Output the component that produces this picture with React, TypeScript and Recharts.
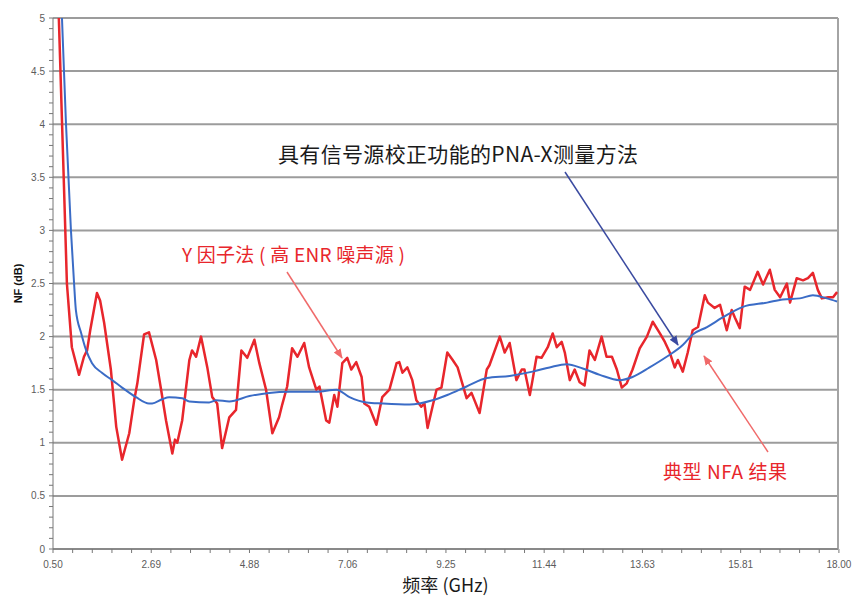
import { Line, LineChart, ReferenceLine, XAxis, YAxis } from "recharts";
import * as React from "react";

// Y-factor method (typical NFA result)
const redFreq = [
  0.63, 0.72, 0.81, 0.92, 1.08, 1.19, 1.26, 1.33, 1.48, 1.55, 1.64, 1.79, 1.91, 2.04, 2.2, 2.31, 2.38, 2.53,
  2.64, 2.8, 2.91, 3.02, 3.16, 3.22, 3.27, 3.38, 3.54, 3.6, 3.69, 3.8, 3.94, 4.05, 4.16, 4.27, 4.43, 4.58,
  4.7, 4.83, 4.99, 5.1, 5.25, 5.39, 5.54, 5.61, 5.72, 5.83, 5.95, 6.1, 6.21, 6.37, 6.44, 6.59, 6.66, 6.77,
  6.84, 6.95, 7.06, 7.15, 7.26, 7.38, 7.44, 7.55, 7.71, 7.84, 8.0, 8.16, 8.22, 8.29, 8.4, 8.51, 8.6, 8.71,
  8.78, 8.85, 8.96, 9.05, 9.16, 9.29, 9.41, 9.52, 9.72, 9.83, 10.01, 10.17, 10.23, 10.46, 10.57, 10.68,
  10.83, 10.95, 11.01, 11.13, 11.19, 11.28, 11.39, 11.53, 11.64, 11.73, 11.84, 11.91, 12.02, 12.13, 12.24,
  12.35, 12.46, 12.58, 12.73, 12.84, 12.96, 13.07, 13.18, 13.29, 13.42, 13.58, 13.74, 13.87, 14.03, 14.14,
  14.25, 14.36, 14.43, 14.54, 14.65, 14.76, 14.88, 15.03, 15.1, 15.25, 15.37, 15.52, 15.63, 15.7, 15.81,
  15.92, 16.04, 16.21, 16.33, 16.48, 16.59, 16.71, 16.86, 16.93, 17.08, 17.22, 17.33, 17.44, 17.55, 17.64,
  17.78, 17.89, 17.98,
];
const redNF = [
  5.0, 3.76, 2.5, 1.9, 1.64, 1.81, 1.87, 2.06, 2.41, 2.34, 2.13, 1.69, 1.15, 0.84, 1.09, 1.4, 1.56, 2.02,
  2.04, 1.78, 1.5, 1.21, 0.9, 1.03, 1.0, 1.21, 1.78, 1.87, 1.81, 2.0, 1.71, 1.43, 1.37, 0.95, 1.24, 1.31,
  1.87, 1.8, 1.97, 1.75, 1.5, 1.09, 1.24, 1.36, 1.53, 1.89, 1.81, 1.94, 1.71, 1.5, 1.53, 1.21, 1.19, 1.45,
  1.34, 1.75, 1.8, 1.69, 1.76, 1.62, 1.37, 1.34, 1.17, 1.43, 1.5, 1.75, 1.76, 1.66, 1.71, 1.59, 1.4, 1.34,
  1.37, 1.14, 1.34, 1.5, 1.52, 1.85, 1.78, 1.71, 1.42, 1.47, 1.28, 1.69, 1.73, 2.0, 1.85, 1.94,
  1.59, 1.69, 1.69, 1.45, 1.59, 1.81, 1.8, 1.9, 2.03, 1.9, 1.95, 1.85, 1.59, 1.69, 1.57,
  1.54, 1.87, 1.78, 2.0, 1.81, 1.81, 1.69, 1.52, 1.56, 1.69, 1.89, 2.0, 2.14, 2.03, 1.95,
  1.85, 1.71, 1.78, 1.67, 1.85, 2.06, 2.09, 2.39, 2.32, 2.27, 2.3, 2.06, 2.25, 2.18, 2.08,
  2.47, 2.44, 2.61, 2.49, 2.63, 2.44, 2.37, 2.5, 2.32, 2.55, 2.53, 2.55, 2.6, 2.44, 2.36,
  2.37, 2.37, 2.42,
];

// PNA-X with source correction
const blueFreq = [
  0.7, 0.79, 0.9, 0.97, 1.01, 1.13, 1.24, 1.37, 1.59, 1.82, 2.04, 2.35, 2.64, 2.71, 2.93, 3.09, 3.38, 3.54,
  3.98, 4.14, 4.43, 4.88, 5.32, 5.77, 6.37, 6.82, 7.11, 7.49, 7.84, 8.45, 8.96, 9.29, 9.72, 10.17, 10.68,
  11.19, 11.57, 11.95, 12.31, 12.69, 13.13, 13.42, 13.8, 14.18, 14.54, 14.76, 15.08, 15.43, 15.88, 16.42,
  16.77, 17.15, 17.44, 17.75, 17.98,
];
const blueNF = [
  5.0, 4.0, 3.0, 2.5, 2.25, 2.03, 1.87, 1.75, 1.66, 1.59, 1.52, 1.43, 1.37, 1.37, 1.41, 1.43, 1.42, 1.39,
  1.38, 1.4, 1.39, 1.44, 1.47, 1.48, 1.48, 1.5, 1.43, 1.38, 1.37, 1.36, 1.4, 1.45, 1.53, 1.61, 1.63,
  1.67, 1.71, 1.74, 1.7, 1.64, 1.59, 1.62, 1.71, 1.81, 1.92, 2.02, 2.09, 2.18, 2.28, 2.32,
  2.35, 2.36, 2.39, 2.36, 2.33,
];

const xTickLabels = ["0.50", "2.69", "4.88", "7.06", "9.25", "11.44", "13.63", "15.81", "18.00"];
const xMinorPerMajor = 5;
const yGridValues = [0, 0.5, 1, 1.5, 2, 2.5, 3, 3.5, 4, 4.5, 5];

const redData = redFreq.map((f, i) => ({ f, nf: redNF[i] }));
const blueData = blueFreq.map((f, i) => ({ f, nf: blueNF[i] }));

const xMajor = xTickLabels.map(Number);
const xStep = (xMajor[1] - xMajor[0]) / xMinorPerMajor;
const xTicks = Array.from({ length: (xMajor.length - 1) * xMinorPerMajor + 1 }, (_, k) => xMajor[0] + k * xStep);
const yTicks = Array.from({ length: 51 }, (_, k) => k / 10);

const RED = "#e8262c";
const BLUE = "#3b6cc6";
const tickStyle = { fontFamily: "Liberation Sans", fontSize: 10, fill: "#5c5c5c" };

export default function App() {
  return (
    <div style={{ position: "absolute", left: 0, top: 0, width: 854, height: 598, background: "#fff" }}>
      <LineChart width={854} height={598} margin={{ top: 18, right: 16, bottom: 0, left: 0 }}>
        {yGridValues.map((v) => (
          <ReferenceLine key={v} y={v} stroke="#9c9c9c" strokeWidth={2} />
        ))}
        <ReferenceLine x={18} stroke="#a4a4a4" strokeWidth={2} />
        <XAxis
          type="number"
          dataKey="f"
          domain={[0.5, 18]}
          ticks={xTicks}
          interval={0}
          allowDataOverflow
          height={49}
          stroke="#777"
          tickSize={4}
          tickMargin={8}
          tick={tickStyle}
          tickFormatter={(v: number, i: number) => (i % xMinorPerMajor === 0 ? xTickLabels[i / xMinorPerMajor] : "")}
          label={{
            value: "频率 (GHz)",
            position: "insideBottom",
            offset: 6,
            style: { fontFamily: "Noto Sans CJK SC", fontSize: 18, fill: "#1a1a1a" },
          }}
        />
        <YAxis
          type="number"
          domain={[0, 5]}
          ticks={yTicks}
          interval={0}
          allowDataOverflow
          width={53}
          stroke="#777"
          tickSize={4}
          tickMargin={4}
          tick={tickStyle}
          tickFormatter={(v: number, i: number) => (i % 5 === 0 ? String(Number(v.toFixed(1))) : "")}
          label={{
            value: "NF (dB)",
            angle: -90,
            position: "center",
            dx: -8,
            style: { fontFamily: "Liberation Sans", fontSize: 11, fontWeight: "bold", fill: "#111" },
          }}
        />
        <Line data={redData} dataKey="nf" stroke={RED} strokeWidth={2.5} dot={false} activeDot={false} isAnimationActive={false} strokeLinejoin="round" />
        <Line type="monotone" data={blueData} dataKey="nf" stroke={BLUE} strokeWidth={2} dot={false} activeDot={false} isAnimationActive={false} strokeLinejoin="round" />
      </LineChart>

      {/* annotations */}
      <svg width={854} height={598} style={{ position: "absolute", left: 0, top: 0, pointerEvents: "none" }}>
        <defs>
          <marker id="ahBlue" viewBox="0 0 10 10" refX="9" refY="5" markerWidth="10" markerHeight="10" orient="auto" markerUnits="userSpaceOnUse">
            <path d="M0,1 L10,5 L0,9 z" fill="#3a4aa0" />
          </marker>
          <marker id="ahRed" viewBox="0 0 10 10" refX="9" refY="5" markerWidth="10" markerHeight="10" orient="auto" markerUnits="userSpaceOnUse">
            <path d="M0,1 L10,5 L0,9 z" fill="#f06a6a" />
          </marker>
        </defs>
        <line x1={565} y1={172} x2={678} y2={345} stroke="#3a4aa0" strokeWidth={1.5} markerEnd="url(#ahBlue)" />
        <line x1={287} y1={272} x2={342} y2={358} stroke="#f06a6a" strokeWidth={1.5} markerEnd="url(#ahRed)" />
        <line x1={768} y1={452} x2={704} y2={356} stroke="#f06a6a" strokeWidth={1.5} markerEnd="url(#ahRed)" />
        <text x={278} y={162} textLength={360} fontFamily="Noto Sans CJK SC" fontSize={21} fill="#1a1a1a">
          具有信号源校正功能的PNA-X测量方法
        </text>
        <text x={182} y={262} textLength={223} fontFamily="Noto Sans CJK SC" fontSize={19} fill={RED}>
          Y 因子法 ( 高 ENR 噪声源 )
        </text>
        <text x={663} y={479} textLength={124} fontFamily="Noto Sans CJK SC" fontSize={19} fill={RED}>
          典型 NFA 结果
        </text>
      </svg>
    </div>
  );
}
